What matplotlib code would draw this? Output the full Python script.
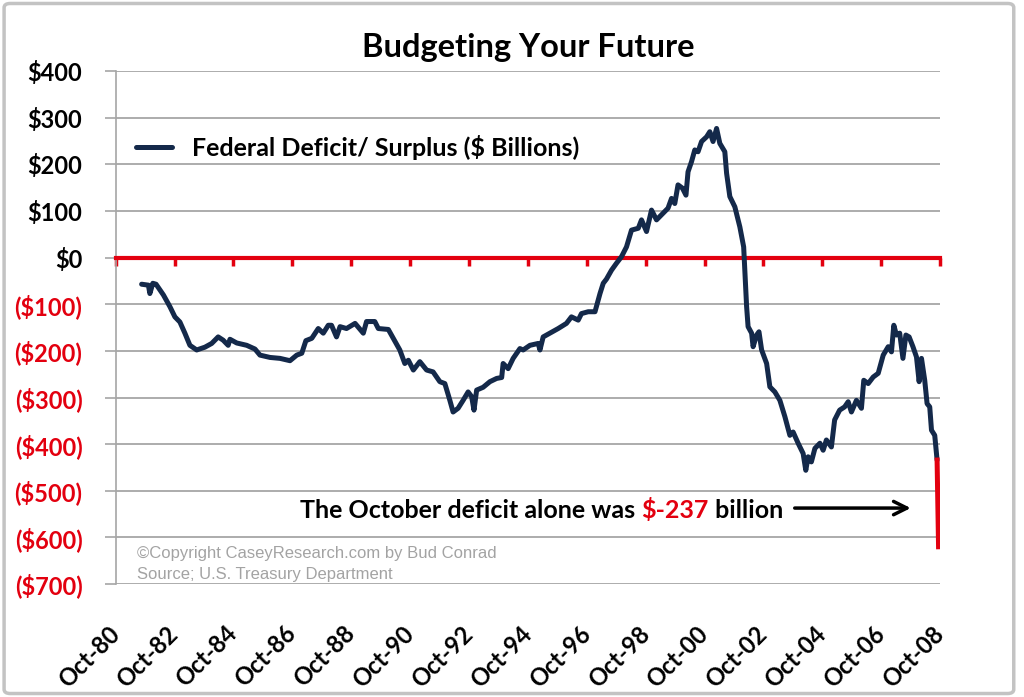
import matplotlib.pyplot as plt
from matplotlib.patches import FancyBboxPatch

# monthly-ish readings of rolling federal deficit/surplus ($ billions), decimal years
years = [1981.63, 1981.86, 1981.91, 1982.01, 1982.12, 1982.37, 1982.59, 1982.76, 1982.93, 1983.10,
         1983.27, 1983.50, 1983.78, 1984.01, 1984.23, 1984.40, 1984.57, 1984.63, 1984.86, 1985.20,
         1985.48, 1985.65, 1985.99, 1986.33, 1986.67, 1986.90, 1987.07, 1987.21, 1987.41, 1987.63,
         1987.80, 1987.97, 1988.08, 1988.25, 1988.37, 1988.59, 1988.88, 1989.16, 1989.27, 1989.55,
         1989.67, 1990.01, 1990.18, 1990.40, 1990.57, 1990.69, 1990.86, 1991.08, 1991.31, 1991.53,
         1991.76, 1991.93, 1992.10, 1992.21, 1992.38, 1992.55, 1992.72, 1992.84, 1992.92, 1993.01,
         1993.23, 1993.46, 1993.69, 1993.86, 1993.91, 1994.08, 1994.25, 1994.48, 1994.59, 1994.82,
         1995.10, 1995.16, 1995.27, 1995.50, 1995.78, 1996.06, 1996.23, 1996.46, 1996.57, 1996.80,
         1997.03, 1997.14, 1997.20, 1997.31, 1997.42, 1997.59, 1997.76, 1997.93, 1998.10, 1998.27,
         1998.50, 1998.61, 1998.78, 1998.95, 1999.12, 1999.34, 1999.51, 1999.63, 1999.74, 1999.85,
         2000.00, 2000.12, 2000.19, 2000.31, 2000.42, 2000.53, 2000.65, 2000.82, 2000.93, 2001.04,
         2001.16, 2001.27, 2001.44, 2001.50, 2001.61, 2001.78, 2001.95, 2002.08, 2002.12, 2002.18,
         2002.23, 2002.35, 2002.40, 2002.52, 2002.60, 2002.69, 2002.86, 2002.97, 2003.14, 2003.31,
         2003.48, 2003.65, 2003.76, 2003.93, 2004.10, 2004.19, 2004.27, 2004.38, 2004.50, 2004.67,
         2004.78, 2004.89, 2005.06, 2005.17, 2005.34, 2005.51, 2005.63, 2005.74, 2005.91, 2006.08,
         2006.16, 2006.31, 2006.48, 2006.65, 2006.82, 2006.99, 2007.10, 2007.18, 2007.27, 2007.38,
         2007.49, 2007.59, 2007.70, 2007.83, 2007.95, 2008.04, 2008.12, 2008.23, 2008.31, 2008.40,
         2008.46, 2008.57, 2008.65]
deficit = [-57, -59, -77, -55, -57, -80, -105, -127, -138, -162,
           -188, -198, -192, -184, -170, -177, -188, -175, -183, -188,
           -196, -209, -214, -216, -221, -209, -205, -178, -173, -152,
           -162, -145, -145, -170, -148, -152, -141, -162, -137, -137,
           -152, -154, -173, -198, -227, -220, -241, -223, -241, -245,
           -266, -270, -306, -331, -323, -306, -288, -298, -327, -284,
           -278, -266, -259, -257, -227, -238, -216, -195, -198, -188,
           -184, -198, -170, -162, -152, -141, -127, -134, -120, -116,
           -116, -91, -77, -55, -46, -27, -12, 2, 23, 59,
           63, 81, 56, 102, 81, 95, 106, 127, 116, 156,
           149, 134, 184, 206, 231, 227, 249, 259, 270, 249,
           277, 245, 227, 181, 131, 109, 66, 23, -30, -105,
           -148, -162, -191, -166, -159, -198, -227, -277, -288, -306,
           -341, -381, -374, -398, -420, -456, -427, -438, -409, -398,
           -413, -391, -406, -348, -327, -320, -309, -331, -306, -323,
           -263, -270, -256, -248, -209, -191, -202, -145, -166, -162,
           -216, -166, -170, -191, -213, -266, -216, -263, -313, -320,
           -370, -381, -434]

# final October 2008 month
oct_years = [2008.65, 2008.70]
oct_deficit = [-434, -620]

y_ticks = [400, 300, 200, 100, 0, -100, -200, -300, -400, -500, -600, -700]
y_labels = ["$400", "$300", "$200", "$100", "$0", "($100)", "($200)", "($300)",
            "($400)", "($500)", "($600)", "($700)"]
x_ticks = [1980.75 + 2 * i for i in range(15)]
x_labels = ["Oct-80", "Oct-82", "Oct-84", "Oct-86", "Oct-88", "Oct-90", "Oct-92", "Oct-94",
            "Oct-96", "Oct-98", "Oct-00", "Oct-02", "Oct-04", "Oct-06", "Oct-08"]

navy = "#14294a"
red = "#e3000f"
grid_gray = "#a6a6a6"
plt.rcParams['font.family'] = ['Lato', 'DejaVu Sans']

fig = plt.figure(figsize=(10.24, 6.97), dpi=100)
ax = fig.add_axes([0.113, 0.162, 0.805, 0.736])

ax.plot(years, deficit, color=navy, linewidth=3.6, zorder=4,
        label="Federal Deficit/ Surplus ($ Billions)", solid_capstyle='round')
ax.plot(oct_years, oct_deficit, color=red, linewidth=3.6, zorder=4)

ax.set_xlim(1980.75, 2008.75)
ax.set_ylim(-700, 400)

# y axis + grid
ax.set_yticks(y_ticks)
ax.set_yticklabels(y_labels, fontsize=17, fontweight='bold')
for lab, v in zip(ax.get_yticklabels(), y_ticks):
    lab.set_color(red if v < 0 else "black")
ax.tick_params(axis='y', length=8, width=1.2, color=grid_gray, pad=16)
ax.yaxis.grid(True, color=grid_gray, linewidth=1.3)
ax.set_axisbelow(True)
for s in ['top', 'right']:
    ax.spines[s].set_visible(False)
ax.spines['left'].set_color(grid_gray)
ax.spines['left'].set_linewidth(1.2)

# red zero axis with tick marks
ax.spines['bottom'].set_position(('data', 0))
ax.spines['bottom'].set_color(red)
ax.spines['bottom'].set_linewidth(3)
ax.spines['bottom'].set_zorder(3)
ax.set_xticks(x_ticks)
ax.tick_params(axis='x', direction='out', length=6, width=2.5, color=red, labelbottom=False)

# date labels along the bottom
sec = ax.secondary_xaxis(0)
sec.set_xticks(x_ticks)
sec.set_xticklabels(x_labels, fontsize=17, fontweight='bold', rotation=45,
                    ha='right', va='center', rotation_mode='anchor')
sec.tick_params(length=0, pad=33)
sec.spines['bottom'].set_visible(False)

ax.set_title("Budgeting Your Future", fontsize=23.5, fontweight='bold', pad=10)

leg = ax.legend(loc='center left', bbox_to_anchor=(0.0246, 0.852), frameon=False,
                borderpad=0, borderaxespad=0, handlelength=1.45, handletextpad=0.8,
                prop={'size': 18, 'weight': 'bold'})

# annotation: mixed colour sentence
t1 = ax.text(1987.02, -542, "The October deficit alone was ", fontsize=18,
             fontweight='bold', va='center', ha='left')
t2 = ax.annotate("$-237", xy=(1, 0), xycoords=t1, va='bottom', ha='left',
                 fontsize=18, fontweight='bold', color=red)
ax.annotate(" billion", xy=(1, 0), xycoords=t2, va='bottom', ha='left',
            fontsize=18, fontweight='bold', color='black')
ax.annotate("", xy=(2007.85, -537), xytext=(2003.72, -537),
            arrowprops=dict(arrowstyle='->', lw=2.5, color='black', mutation_scale=24))

ax.text(1981.47, -634, "\u00a9Copyright CaseyResearch.com by Bud Conrad", fontsize=12,
        color='#a3a3a3', family='Liberation Sans', va='center')
ax.text(1981.47, -679, "Source; U.S. Treasury Department", fontsize=12,
        color='#a3a3a3', family='Liberation Sans', va='center')

# grey frame around the image
frame = FancyBboxPatch((0.004, 0.005), 0.986, 0.99, boxstyle="round,pad=0,rounding_size=0.006",
                       transform=fig.transFigure, fill=False, edgecolor='#c3c3c3', linewidth=2.5)
fig.patches.append(frame)

plt.savefig("out.png", dpi=100)
